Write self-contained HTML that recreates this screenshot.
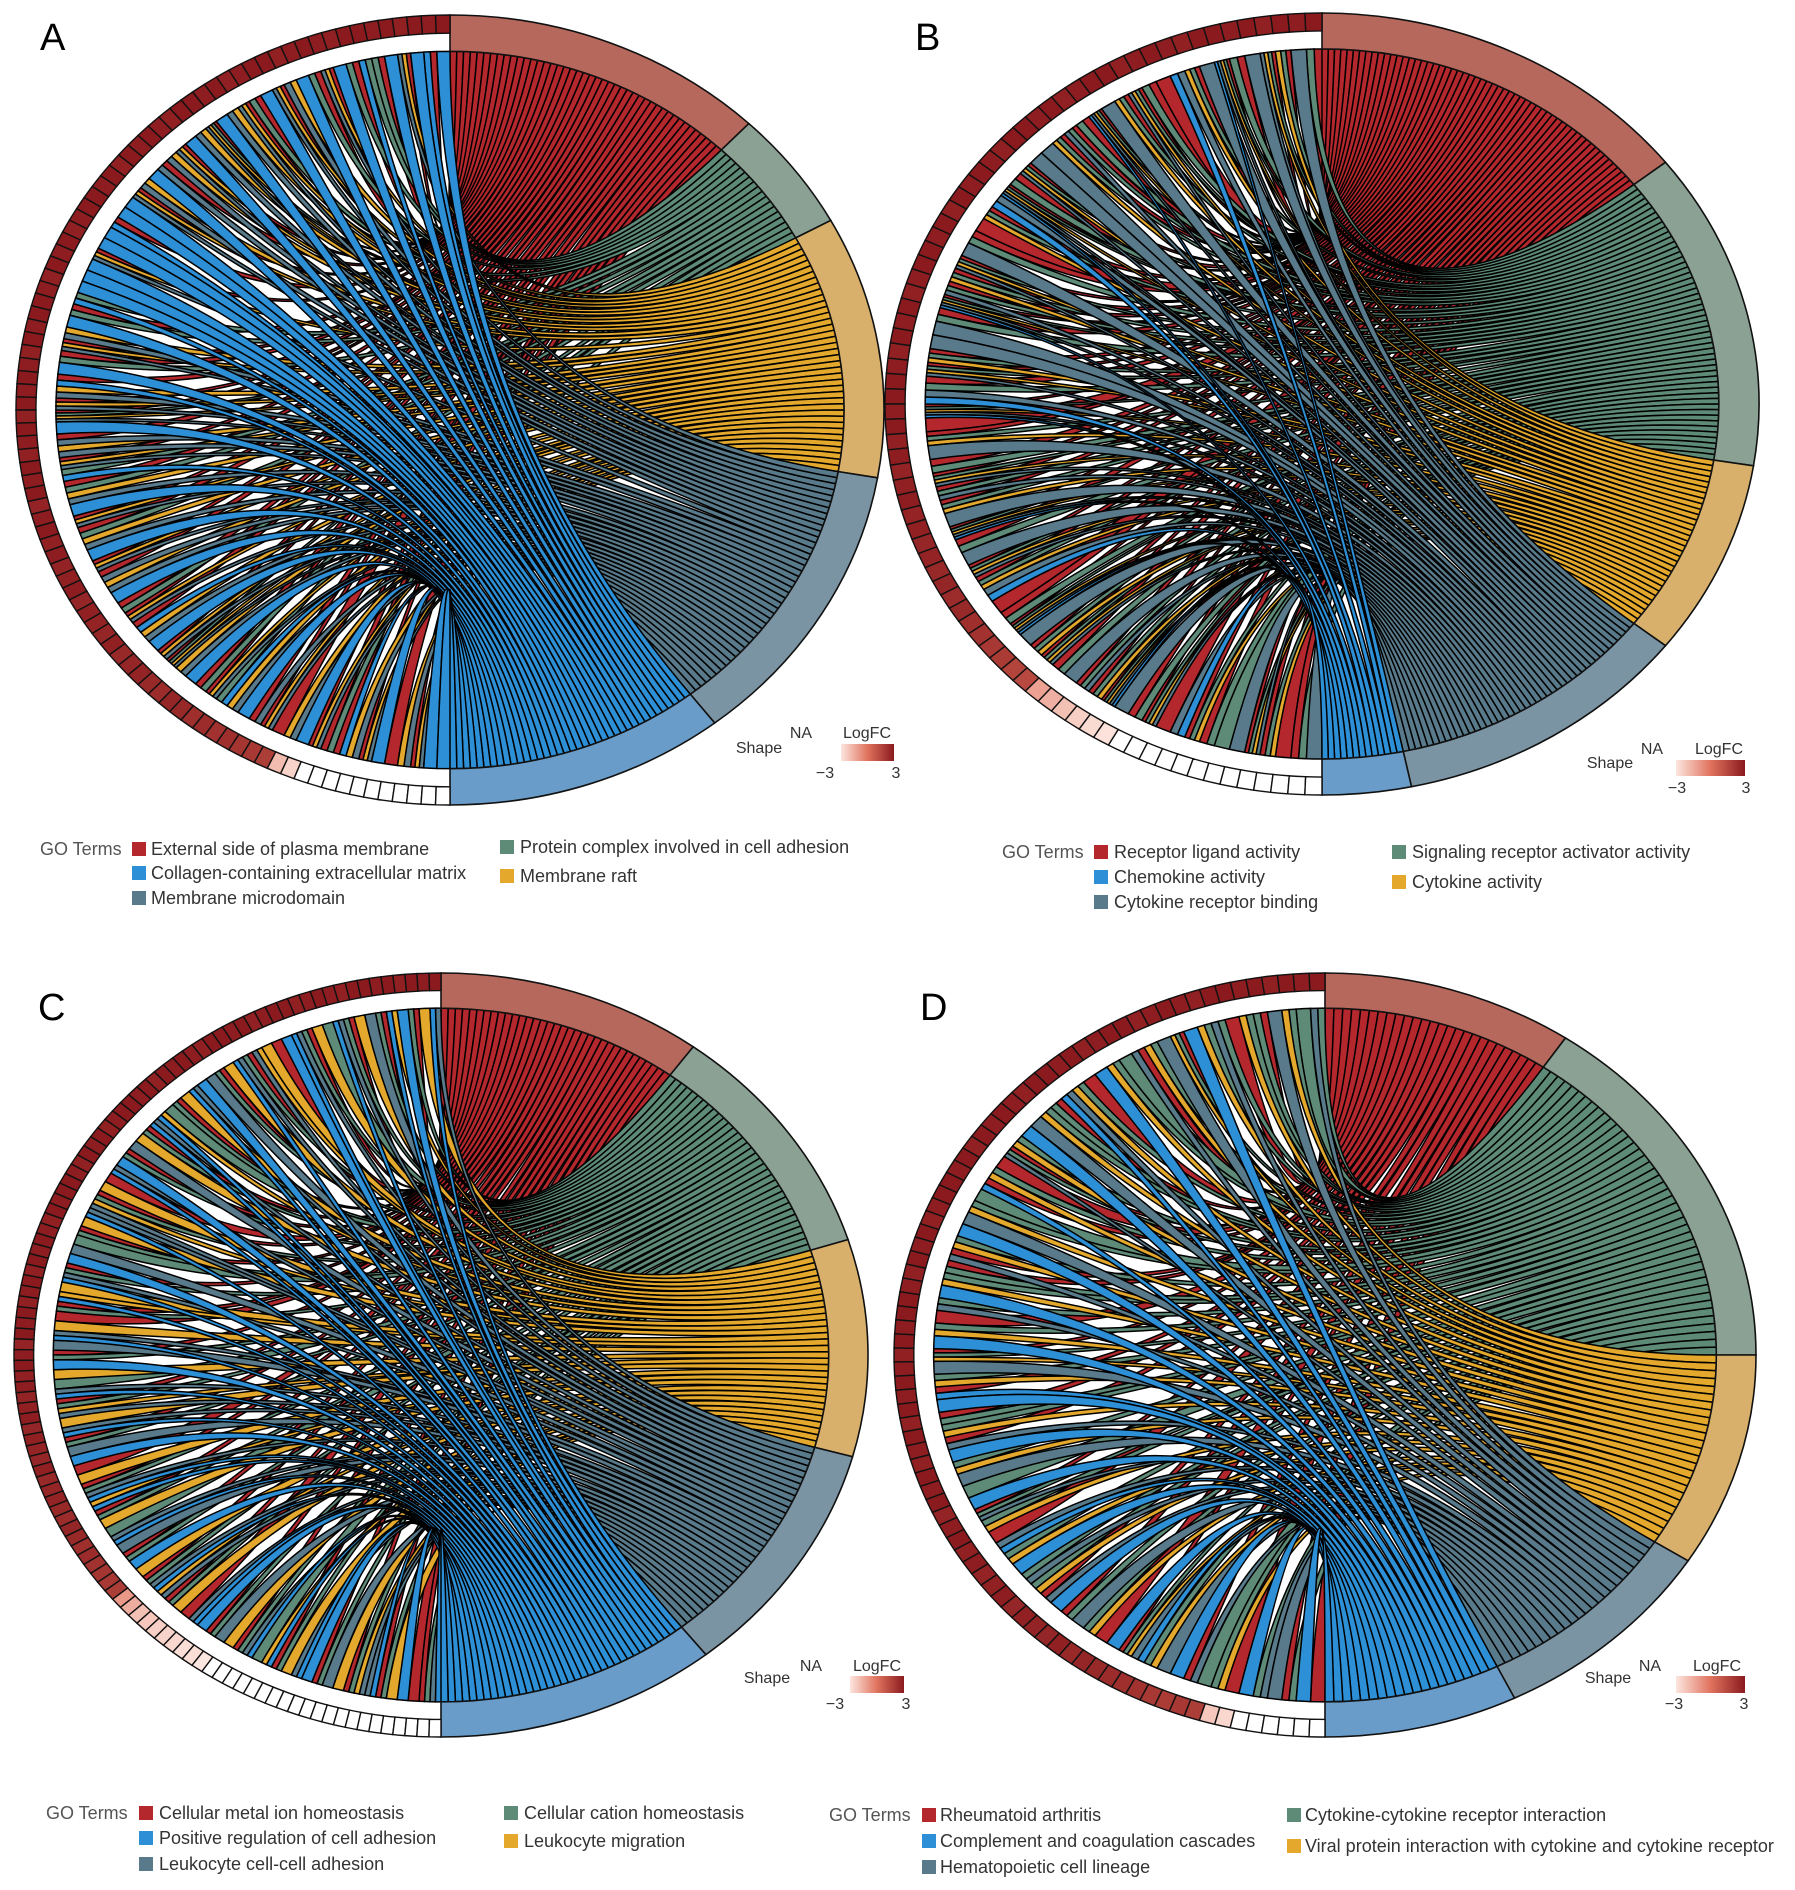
<!DOCTYPE html>
<html><head><meta charset="utf-8">
<style>
html,body{margin:0;padding:0;background:#fff;}
svg{display:block;font-family:"Liberation Sans",Arial,sans-serif;}
</style></head>
<body>
<svg id="fig" width="1795" height="1890" viewBox="0 0 1795 1890" xmlns="http://www.w3.org/2000/svg">
<defs>
<linearGradient id="fcgrad" x1="0" x2="1" y1="0" y2="0">
<stop offset="0" stop-color="#fde6df"/><stop offset="0.5" stop-color="#e0735e"/><stop offset="1" stop-color="#8a1a1e"/>
</linearGradient>
</defs>
<g id="panels"></g>

<text x="40" y="50" font-size="38">A</text>
<text x="915" y="50" font-size="38">B</text>
<text x="38" y="1020" font-size="38">C</text>
<text x="920" y="1020" font-size="38">D</text>

<g font-size="16" fill="#333">
<text x="759" y="753" text-anchor="middle">Shape</text><text x="801" y="738" text-anchor="middle">NA</text><text x="867" y="738" text-anchor="middle">LogFC</text>
<rect x="841" y="744" width="53" height="17" fill="url(#fcgrad)"/><text x="825" y="778" text-anchor="middle">−3</text><text x="896" y="778" text-anchor="middle">3</text></g>
<g font-size="16" fill="#333">
<text x="1610" y="768" text-anchor="middle">Shape</text><text x="1652" y="754" text-anchor="middle">NA</text><text x="1719" y="754" text-anchor="middle">LogFC</text>
<rect x="1676" y="760" width="69" height="16" fill="url(#fcgrad)"/><text x="1677" y="793" text-anchor="middle">−3</text><text x="1746" y="793" text-anchor="middle">3</text></g>
<g font-size="16" fill="#333">
<text x="767" y="1683" text-anchor="middle">Shape</text><text x="811" y="1671" text-anchor="middle">NA</text><text x="877" y="1671" text-anchor="middle">LogFC</text>
<rect x="850" y="1676" width="54" height="17" fill="url(#fcgrad)"/><text x="835" y="1709" text-anchor="middle">−3</text><text x="906" y="1709" text-anchor="middle">3</text></g>
<g font-size="16" fill="#333">
<text x="1608" y="1683" text-anchor="middle">Shape</text><text x="1650" y="1671" text-anchor="middle">NA</text><text x="1717" y="1671" text-anchor="middle">LogFC</text>
<rect x="1676" y="1676" width="69" height="17" fill="url(#fcgrad)"/><text x="1674" y="1709" text-anchor="middle">−3</text><text x="1744" y="1709" text-anchor="middle">3</text></g>

<g font-size="18" fill="#333">
<text x="40" y="855" fill="#555">GO Terms</text>
<rect x="132" y="842" width="14" height="14" fill="#b4282d"/><text x="151" y="855">External side of plasma membrane</text>
<rect x="132" y="866" width="14" height="14" fill="#2d8fd5"/><text x="151" y="879">Collagen-containing extracellular matrix</text>
<rect x="132" y="891" width="14" height="14" fill="#587a8a"/><text x="151" y="904">Membrane microdomain</text>
<rect x="500" y="840" width="14" height="14" fill="#5e8a78"/><text x="520" y="853">Protein complex involved in cell adhesion</text>
<rect x="500" y="869" width="14" height="14" fill="#e3a82c"/><text x="520" y="882">Membrane raft</text></g>
<g font-size="18" fill="#333">
<text x="1002" y="858" fill="#555">GO Terms</text>
<rect x="1094" y="845" width="14" height="14" fill="#b4282d"/><text x="1114" y="858">Receptor ligand activity</text>
<rect x="1094" y="870" width="14" height="14" fill="#2d8fd5"/><text x="1114" y="883">Chemokine activity</text>
<rect x="1094" y="895" width="14" height="14" fill="#587a8a"/><text x="1114" y="908">Cytokine receptor binding</text>
<rect x="1392" y="845" width="14" height="14" fill="#5e8a78"/><text x="1412" y="858">Signaling receptor activator activity</text>
<rect x="1392" y="875" width="14" height="14" fill="#e3a82c"/><text x="1412" y="888">Cytokine activity</text></g>
<g font-size="18" fill="#333">
<text x="46" y="1819" fill="#555">GO Terms</text>
<rect x="139" y="1806" width="14" height="14" fill="#b4282d"/><text x="159" y="1819">Cellular metal ion homeostasis</text>
<rect x="139" y="1831" width="14" height="14" fill="#2d8fd5"/><text x="159" y="1844">Positive regulation of cell adhesion</text>
<rect x="139" y="1857" width="14" height="14" fill="#587a8a"/><text x="159" y="1870">Leukocyte cell-cell adhesion</text>
<rect x="504" y="1806" width="14" height="14" fill="#5e8a78"/><text x="524" y="1819">Cellular cation homeostasis</text>
<rect x="504" y="1834" width="14" height="14" fill="#e3a82c"/><text x="524" y="1847">Leukocyte migration</text></g>
<g font-size="18" fill="#333">
<text x="829" y="1821" fill="#555">GO Terms</text>
<rect x="922" y="1808" width="14" height="14" fill="#b4282d"/><text x="940" y="1821">Rheumatoid arthritis</text>
<rect x="922" y="1834" width="14" height="14" fill="#2d8fd5"/><text x="940" y="1847">Complement and coagulation cascades</text>
<rect x="922" y="1860" width="14" height="14" fill="#587a8a"/><text x="940" y="1873">Hematopoietic cell lineage</text>
<rect x="1287" y="1808" width="14" height="14" fill="#5e8a78"/><text x="1305" y="1821">Cytokine-cytokine receptor interaction</text>
<rect x="1287" y="1839" width="14" height="14" fill="#e3a82c"/><text x="1305" y="1852">Viral protein interaction with cytokine and cytokine receptor</text></g>
</svg>
<script>
const termKeys = ["R","G","Y","M","B"];
const chordColors = ["#b4282d","#5e8a78","#e3a82c","#587a8a","#2d8fd5"];
const bandColors = ["#b6685c","#8aa194","#d8b06c","#7b94a4","#6a9cc9"];

const genesA = ["B","BR","B","RYM","B","RG","BG","RG","B","RYM","RG","B","YM","RYM","B","RG","RYM","YM","B","RGYM","YM","B","RYM","YM","RM","B","YM","RYM","B","B","BR","B","B","RYM","B","B","B","BG","RG","B","YM","RYM","RG","B","BR","YM","RYM","RGYM","B","RM","YM","RYM","BG","RG","YM","B","RYM","RG","YM","B","RYM","RM","YM","B","RG","RYM","BR","YM","B","RYM","RGYM","YM","B","RG","RYM","BG","YM","B","RM","RYM","R","YM","B","RYM","RG","BR","YM","RYM","B","R","YM","RYM","B","B"];
const logfcA = [3,2.9,3,2.8,3,2.9,3,3,2.8,2.9,3,2.9,2.8,3,3,2.9,2.8,3,2.9,3,3,2.8,2.9,3,2.9,3,2.8,3,2.9,3,3,2.9,2.8,3,2.9,3,2.8,2.9,3,3,2.9,3,2.8,2.9,3,2.9,3,2.8,3,2.9,2.8,3,2.9,3,2.7,2.9,3,2.8,2.9,2.7,2.8,2.9,2.6,2.8,2.7,2.6,2.8,2.5,2.6,2.7,2.5,2.4,2.6,2.5,2.3,2.4,2.2,2.3,2.1,2.0,1.8,-1.9,-2.5,null,null,null,null,null,null,null,null,null,null,null];

const genesB = ["RG","M","RGY","RGYM","M","RG","RGYMB","M","RGY","MB","R","RG","RGYM","RGY","M","RGYMB","RG","RGM","RGY","M","M","RGYM","RG","RGYMB","MB","RGY","R","RG","M","RGYM","RGY","RGM","RGYMB","RG","M","M","RGY","RGYM","RG","MB","RGYMB","R","RGY","M","RG","RGYM","RGM","RGY","M","RGYMB","RG","M","RGYM","RGY","MB","R","RG","RGYMB","M","RGY","RGYM","RG","M","RGM","RGY","RGYMB","M","RG","RGYM","R","MB","RGY","RG","G","M","RGYM","RGY","R","RG","M"];
const logfcB = [3,2.9,3,2.8,3,2.9,3,3,2.8,2.9,3,2.9,2.8,3,3,2.9,2.8,3,2.9,3,3,2.8,2.9,3,2.9,3,2.8,3,2.9,3,3,2.9,2.8,3,2.9,3,2.8,2.9,3,3,2.9,3,2.8,2.9,2.7,2.8,2.9,2.7,2.8,2.6,2.7,2.5,2.6,2.4,2.5,2.3,2.2,2.0,1.9,1.6,1.4,-1.2,-1.6,-2.0,-2.4,-2.7,-2.9,null,null,null,null,null,null,null,null,null,null,null,null,null];

const genesC = ["MB","Y","RG","B","YB","RG","M","Y","RG","MB","G","Y","RG","MB","B","R","Y","YM","RG","MB","Y","RG","M","B","MB","Y","RG","G","YB","MB","RG","Y","M","RG","B","MB","R","Y","RG","YM","MB","Y","RG","G","M","B","RG","MB","Y","YB","RG","R","Y","MB","M","RG","B","Y","G","MB","RG","YM","Y","MB","RG","M","B","R","Y","RG","MB","YB","RG","Y","G","MB","M","RG","B","Y","RG","MB","YM","RG","Y","R","MB","B","RG","M","Y","RG","MB","G","YB","RG","Y","MB","B","RG","M","Y","RG","YM","MB","RG","Y","B","R","RG","MB"];
const logfcC = [3,2.9,3,2.8,3,2.9,3,3,2.8,2.9,3,2.9,2.8,3,3,2.9,2.8,3,2.9,3,3,2.8,2.9,3,2.9,3,2.8,3,2.9,3,3,2.9,2.8,3,2.9,3,2.8,2.9,3,3,2.9,3,2.8,2.9,3,2.9,3,2.8,3,2.9,2.8,3,2.9,3,2.7,2.9,3,2.8,2.9,2.7,2.8,2.9,2.6,2.8,2.7,2.6,2.8,2.5,2.6,2.7,2.5,2.4,2.6,2.5,2.3,2.4,2.2,2.1,2.0,1.8,-1.0,-1.5,-2.0,-2.2,-2.4,-2.5,-2.6,-2.8,-2.8,-3,null,null,null,null,null,null,null,null,null,null,null,null,null,null,null,null,null,null,null,null,null];

const genesD = ["GM","G","GY","M","GR","GY","R","GM","GY","B","GYR","M","GY","RM","G","GY","B","R","GY","BM","GR","GY","M","B","GY","GRM","R","GY","BR","G","GY","M","B","GY","RM","GR","GY","B","GM","R","GY","B","GYR","M","GY","BR","B","GR","GY","RM","B","GY","M","G","B","GRM","GY","R","BM","GY","B","GM","GY","RM","B","GR","M","GY","R","B","GYR","BM","GY","M","B","RM","G","GY","R","B","GM","M","GR","B","R"];
const logfcD = [3,2.9,3,2.8,3,2.9,3,3,2.8,2.9,3,2.9,2.8,3,3,2.9,2.8,3,2.9,3,3,2.8,2.9,3,2.9,3,2.8,3,2.9,3,3,2.9,2.8,3,2.9,3,2.8,2.9,3,3,2.9,3,2.8,2.9,3,2.9,3,2.8,3,2.9,2.8,3,2.9,3,2.7,2.9,3,2.8,2.9,2.7,2.8,2.9,2.6,2.8,2.7,2.6,2.8,2.5,2.6,2.5,2.4,2.3,2.2,2.0,1.9,2.0,1.8,-2.2,-2.6,null,null,null,null,null,null];

const panelsSpec = [
 {name:"a", cx:450, cy:410, rx:434, ry:395, genes:genesA, fc:logfcA},
 {name:"b", cx:1322, cy:404, rx:437, ry:391, genes:genesB, fc:logfcB},
 {name:"c", cx:441, cy:1355, rx:427, ry:382, genes:genesC, fc:logfcC},
 {name:"d", cx:1325, cy:1355, rx:431, ry:382, genes:genesD, fc:logfcD}
];

const NS = "http://www.w3.org/2000/svg";
const R_CH = 0.908, R_RING_IN = 0.954;

function P(t, r){ return (r*Math.sin(t)).toFixed(5)+","+(-r*Math.cos(t)).toFixed(5); }
function arc(t1,t2,r){ const big=(t2-t1)>Math.PI?1:0; return "A"+r+","+r+" 0 "+big+" 1 "+P(t2,r); }
function sector(t1,t2,r0,r1){
  return "M"+P(t1,r1)+arc(t1,t2,r1)+"L"+P(t2,r0)+"A"+r0+","+r0+" 0 "+((t2-t1)>Math.PI?1:0)+" 0 "+P(t1,r0)+"Z";
}
function hex(c){return [parseInt(c.substr(1,2),16),parseInt(c.substr(3,2),16),parseInt(c.substr(5,2),16)];}
function mix(a,b,t){const A=hex(a),B=hex(b);return "rgb("+A.map((v,i)=>Math.round(v+(B[i]-v)*t)).join(",")+")";}
function fcColor(v){
  if(v===null||v===undefined) return "#ffffff";
  let t=Math.max(0,Math.min(1,(v+3)/6));
  return t<0.5? mix("#fde6df","#e0735e",t/0.5) : mix("#e0735e","#8a1a1e",(t-0.5)/0.5);
}
function mk(tag, attrs, parent){
  const e=document.createElementNS(NS,tag);
  for(const k in attrs) e.setAttribute(k,attrs[k]);
  parent.appendChild(e); return e;
}

const root=document.getElementById("panels");
panelsSpec.forEach(function(p){
  const g=mk("g",{transform:"translate("+p.cx+","+p.cy+") scale("+p.rx+","+p.ry+")"},root);
  
  
  const n=p.genes.length, gw=Math.PI/n;
  const links=[]; const counts=[0,0,0,0,0];
  p.genes.forEach(function(tok,i){
    const ts=tok.split("").map(c=>termKeys.indexOf(c)).sort((a,b)=>a-b);
    const a2=2*Math.PI-i*gw, ws=gw/ts.length;
    ts.forEach(function(t,j){
      links.push({gene:i,term:t,g2:a2-j*ws,g1:a2-(j+1)*ws});
      counts[t]++;
    });
  });
  const total=links.length;
  const tStart=[]; let acc=0;
  counts.forEach(function(c,t){ tStart.push(acc); acc+=c/total*Math.PI; });
  for(let t=0;t<5;t++){
    const L=links.filter(l=>l.term===t).sort((a,b)=>a.gene-b.gene);
    const uw=(counts[t]/total*Math.PI)/Math.max(1,counts[t]);
    L.forEach(function(l,k){ l.b1=tStart[t]+k*uw; l.b2=tStart[t]+(k+1)*uw; });
  }
  const chordG=mk("g",{},g);
  
  
  for(let t=0;t<5;t++){
    links.filter(l=>l.term===t).forEach(function(l){
      const d="M"+P(l.g1,R_CH)+arc(l.g1,l.g2,R_CH)+"Q0,0 "+P(l.b1,R_CH)+arc(l.b1,l.b2,R_CH)+"Q0,0 "+P(l.g1,R_CH)+"Z";
      const e=mk("path",{d:d,fill:chordColors[t],stroke:"#000","stroke-width":"1.5","vector-effect":"non-scaling-stroke"},chordG);
      
      
    });
  }
  for(let t=0;t<5;t++){
    const e=mk("path",{d:sector(tStart[t],tStart[t]+counts[t]/total*Math.PI,R_CH,1),fill:bandColors[t],stroke:"#111","stroke-width":"1.6","vector-effect":"non-scaling-stroke"},g);
    
    
  }
  p.genes.forEach(function(tok,i){
    const a2=2*Math.PI-i*gw, a1=a2-gw;
    const e=mk("path",{d:sector(a1,a2,R_RING_IN,1),fill:fcColor(p.fc[i]),stroke:"#111","stroke-width":"1.4","vector-effect":"non-scaling-stroke"},g);
    
    
  });
});
</script>
</body></html>
